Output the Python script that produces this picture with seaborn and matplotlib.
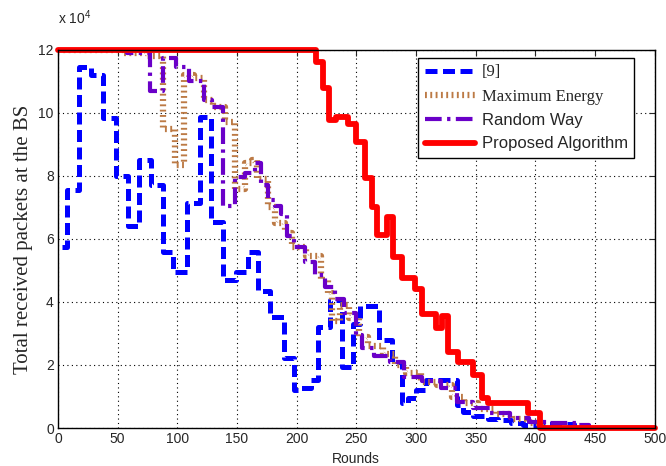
import matplotlib
matplotlib.use("Agg")
import matplotlib.pyplot as plt
import seaborn as sns

# round at which each curve steps, and packets received (x 10^4) from that round on
ref9_rounds = [3, 8, 18, 28, 38, 49, 59, 68, 78, 88, 96, 108, 119, 128, 138, 149, 159,
               168, 178, 189, 198, 204, 212, 218, 228, 238, 247, 253, 269, 280, 288, 293,
               300, 308, 334, 339, 348, 360, 369, 380, 390, 410, 432, 445]
ref9_packets = [5.75, 7.55, 11.45, 11.2, 9.85, 8.0, 6.4, 8.5, 7.7, 5.6, 4.96, 7.14, 9.88,
                6.55, 4.7, 4.96, 5.6, 4.35, 3.53, 2.22, 1.2, 1.27, 1.52, 3.2, 4.06, 1.94,
                3.3, 3.87, 2.8, 2.1, 0.8, 0.95, 1.2, 1.52, 0.73, 0.5, 0.38, 0.3, 0.25,
                0.16, 0.1, 0.13, 0.0, 0.0]

maxen_rounds = [0, 55, 75, 88, 98, 106, 114, 122, 130, 140, 148, 157, 163, 167, 176, 182,
                190, 196, 208, 220, 226, 230, 236, 244, 252, 260, 272, 282, 292, 304, 318,
                330, 340, 352, 365, 380, 395, 405]
maxen_packets = [12.0, 11.9, 11.8, 9.5, 8.35, 11.2, 11.1, 10.4, 10.2, 9.7, 7.6, 8.4, 8.5,
                 7.9, 7.0, 6.5, 6.2, 5.75, 5.45, 4.7, 4.3, 3.4, 3.9, 3.5, 2.9, 2.6, 2.35,
                 2.0, 1.75, 1.45, 1.35, 1.0, 0.8, 0.6, 0.45, 0.3, 0.15, 0.0]

random_rounds = [0, 58, 77, 88, 99, 110, 122, 129, 138, 148, 157, 165, 170, 176, 182, 187,
                 192, 198, 207, 215, 224, 232, 240, 250, 255, 265, 278, 290, 305, 321, 334,
                 348, 362, 379, 395, 410, 435, 445]
random_packets = [12.0, 11.9, 10.7, 11.74, 11.47, 11.0, 10.4, 10.2, 7.03, 7.95, 8.1, 8.4,
                  7.7, 7.25, 7.05, 6.8, 6.1, 5.75, 5.27, 4.86, 4.48, 4.1, 3.65, 2.95, 2.55,
                  2.3, 2.1, 1.63, 1.5, 1.27, 0.83, 0.63, 0.47, 0.32, 0.2, 0.15, 0.1, 0.0]

prop_rounds = [0, 216, 222, 227, 233, 243, 250, 257, 263, 267, 276, 281, 288, 299, 305,
               317, 322, 327, 335, 348, 355, 360, 394, 404, 500]
prop_packets = [12.0, 11.6, 10.8, 9.78, 9.87, 9.65, 9.08, 7.94, 7.0, 6.13, 6.7, 5.43, 4.76,
                4.4, 3.62, 3.17, 3.55, 2.41, 2.1, 1.68, 0.95, 0.79, 0.48, 0.0, 0.0]

sns.set_style("white")
plt.rcParams["font.family"] = ["Liberation Sans", "DejaVu Sans"]

fig, ax = plt.subplots(figsize=(6.66, 4.66), dpi=100)
fig.subplots_adjust(left=0.087, right=0.983, bottom=0.0815, top=0.893)

sns.lineplot(x=ref9_rounds, y=ref9_packets, ax=ax, estimator=None, drawstyle="steps-post",
             color="#0000ff", lw=3.6, linestyle=(0, (2.4, 1.1)), label="[9]")
sns.lineplot(x=maxen_rounds, y=maxen_packets, ax=ax, estimator=None, drawstyle="steps-post",
             color="#bc7a45", lw=4.5, linestyle=(0, (0.3, 0.55)), label="Maximum Energy")
sns.lineplot(x=random_rounds, y=random_packets, ax=ax, estimator=None, drawstyle="steps-post",
             color="#6a00c8", lw=3.0, linestyle=(0, (4, 1.3, 0.8, 1.3)), label="Random Way")
sns.lineplot(x=prop_rounds, y=prop_packets, ax=ax, estimator=None, drawstyle="steps-post",
             color="#ff0000", lw=4.2, label="Proposed Algorithm")
ax.lines[-1].set_clip_on(False)

ax.set_xlim(0, 500)
ax.set_ylim(0, 12)
ax.set_xticks(range(0, 501, 50))
ax.set_yticks(range(0, 13, 2))
ax.tick_params(direction="in", top=True, right=True, length=4, labelsize=10, pad=3)
ax.grid(True, color="black", linestyle=(0, (1, 3)), linewidth=0.8)
for s in ax.spines.values():
    s.set_color("black")
    s.set_linewidth(1.0)

ax.set_xlabel("Rounds", fontsize=10, labelpad=4)
ax.set_ylabel("Total received packets at the BS", fontsize=15,
              family=["Liberation Serif", "DejaVu Serif"], labelpad=4)
ax.text(0, 1.06, r"x 10$\mathregular{^4}$", transform=ax.transAxes,
        ha="left", va="bottom", fontsize=10)

leg = ax.legend(loc="upper right", bbox_to_anchor=(0.966, 0.979), fontsize=12,
                frameon=True, fancybox=False, edgecolor="black", framealpha=1,
                handlelength=3.0, labelspacing=0.5, borderpad=0.4, handletextpad=0.4,
                borderaxespad=0)
leg.get_frame().set_linewidth(1.0)
for t, fam in zip(leg.get_texts(), ["serif", "serif", "sans", "sans"]):
    if fam == "serif":
        t.set_family(["Liberation Serif", "DejaVu Serif"])

fig.savefig("out.png", dpi=100)
